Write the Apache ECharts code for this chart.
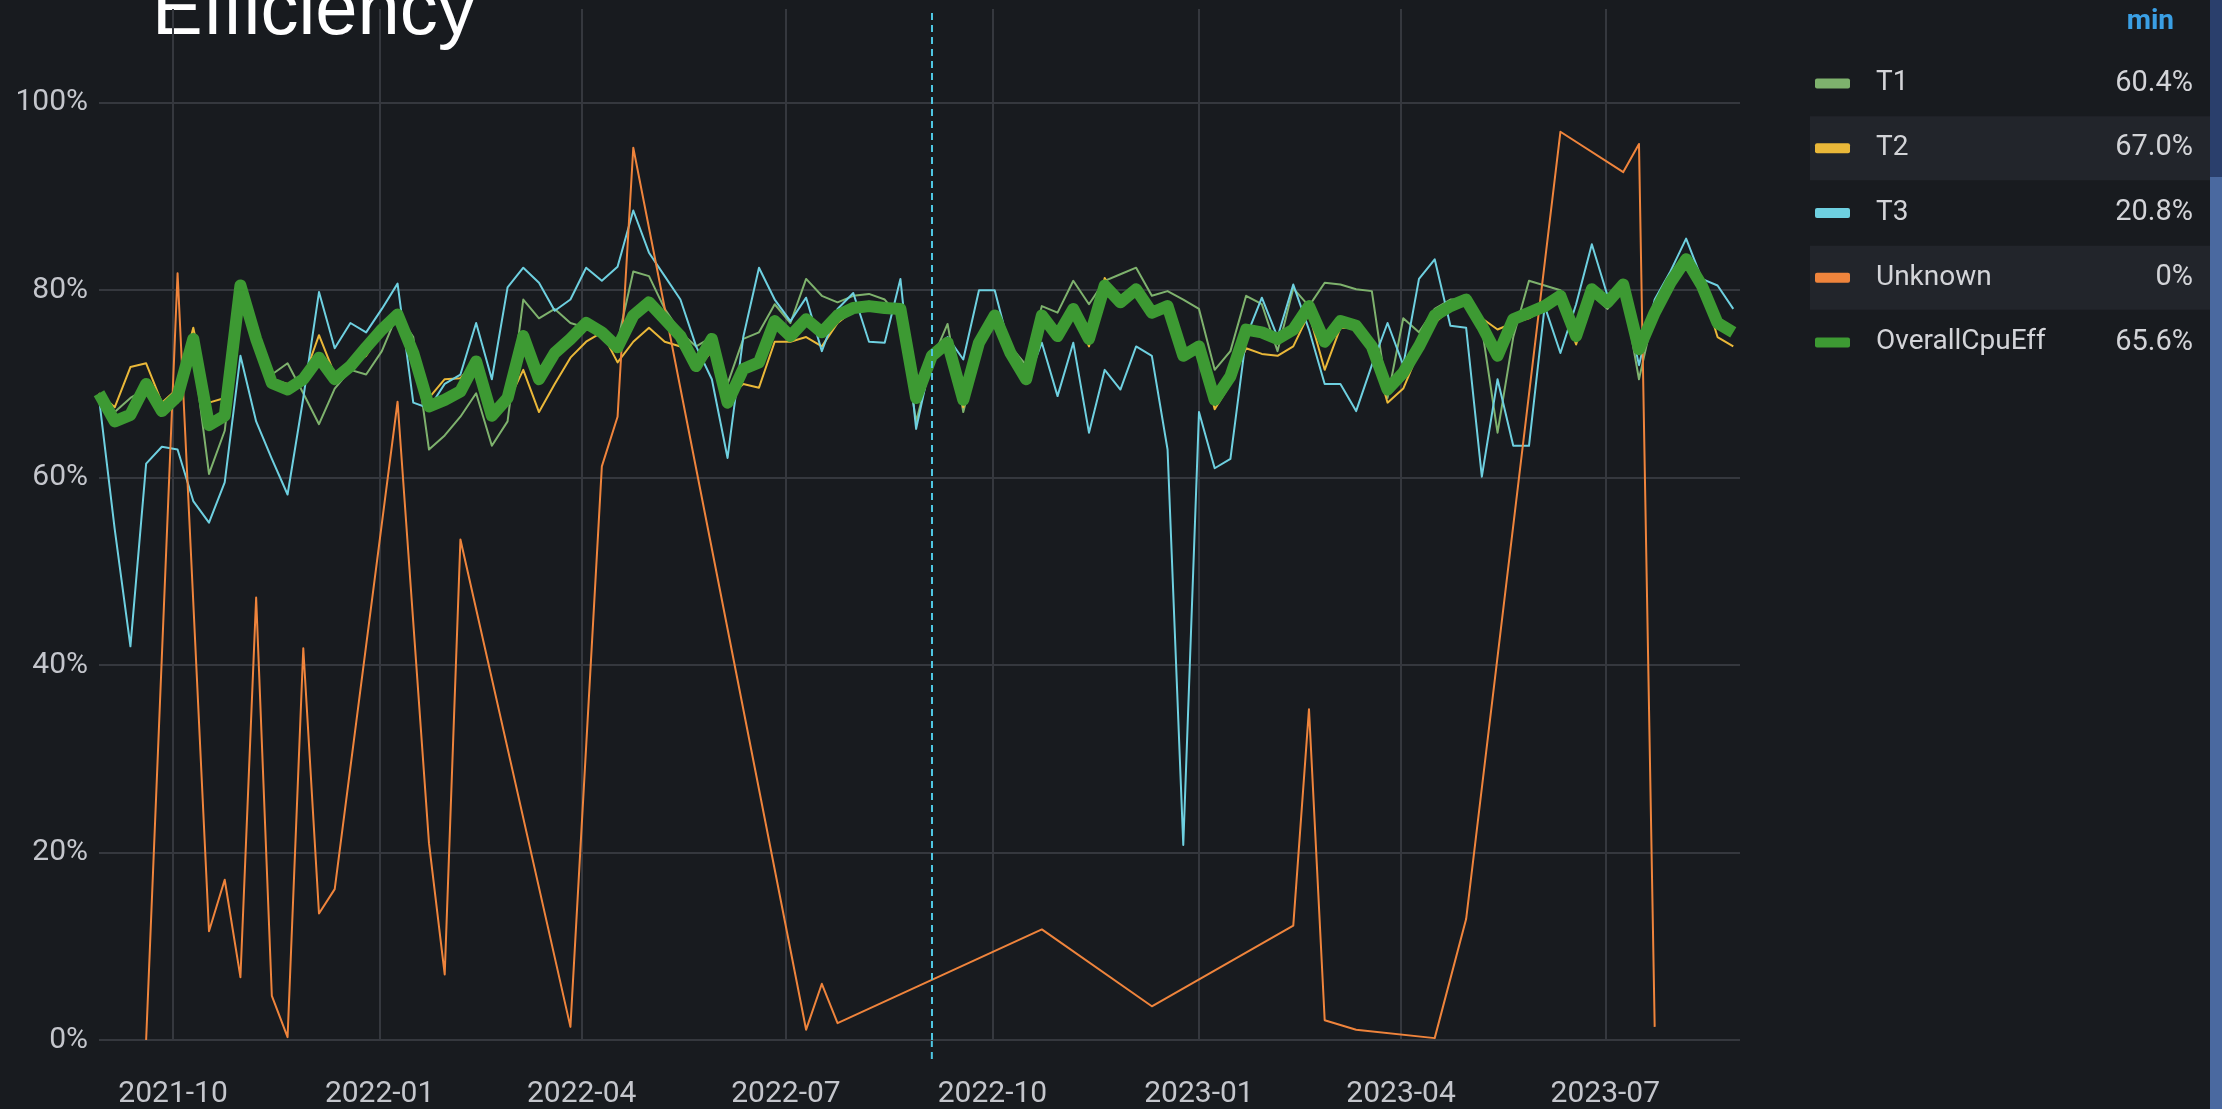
<!DOCTYPE html>
<html>
<head>
<meta charset="utf-8">
<title>Efficiency</title>
<script src="https://cdn.jsdelivr.net/npm/echarts@6/dist/echarts.min.js"></script>
<style>
  html, body { margin: 0; padding: 0; background: #181b1f; }
  #chart { width: 2222px; height: 1109px; }
</style>
</head>
<body>
<div id="chart"></div>
<script>
var DAY = 24 * 3600 * 1000;
// weekly samples, first one on 2021-08-29
var firstWeek = Date.UTC(2021, 7, 29);

var t1 = [
  69.0, 67.0, 68.5, 69.5, 67.5, 68.0, 73.5, 60.4, 65.0, 79.5,
  75.0, 71.0, 72.2, 69.0, 65.7, 69.5, 71.5, 71.0, 73.5, 77.5,
  75.0, 63.0, 64.5, 66.5, 69.0, 63.4, 66.0, 79.0, 77.0, 78.0,
  76.5, 76.0, 75.0, 74.5, 82.0, 81.5, 78.0, 75.5, 74.0, 75.0,
  70.0, 74.8, 75.5, 78.5, 76.5, 81.2, 79.4, 78.7, 79.4, 79.6,
  79.0, 77.0, 66.0, 72.5, 76.4, 67.0, 73.5, 77.5, 74.0, 72.0,
  78.3, 77.6, 81.0, 78.5, 81.0, 81.7, 82.4, 79.4, 79.9, 79.0,
  78.0, 71.5, 73.5, 79.4, 78.5, 73.5, 80.2, 78.3, 80.8, 80.6,
  80.1, 79.9, 68.5, 77.0, 75.5, 78.0, 79.0, 79.0, 76.0, 64.8,
  75.0, 81.0, 80.5, 80.0, 75.0, 79.5, 78.0, 80.0, 70.5, 78.0,
  81.0, 83.0, 80.0, 77.0, 76.0
];

var t2 = [
  69.0, 67.5, 71.8, 72.2, 68.0, 69.5, 76.0, 68.0, 68.5, 79.0,
  74.0, 70.5, 70.0, 70.5, 75.2, 71.0, 72.0, 73.0, 75.5, 77.0,
  73.0, 68.5, 70.5, 70.6, 72.5, 67.3, 68.0, 71.5, 67.0, 70.0,
  72.8, 74.5, 75.5, 72.3, 74.5, 76.0, 74.5, 74.0, 71.5, 73.5,
  68.5, 70.0, 69.6, 74.5, 74.5, 75.0, 74.0, 76.5, 77.8, 78.0,
  77.8, 77.5, 69.0, 73.0, 74.5, 67.5, 74.5, 77.0, 73.5, 70.0,
  76.5, 75.0, 78.0, 74.0, 81.3, 78.5, 80.0, 77.5, 77.8, 73.0,
  74.0, 67.3, 70.0, 73.8, 73.2, 73.0, 74.0, 77.5, 71.5, 76.0,
  76.0, 74.0, 68.0, 69.5, 73.5, 76.5, 78.0, 78.5, 77.0, 75.8,
  76.5, 77.0, 78.0, 79.0, 74.2, 79.5, 78.5, 80.5, 74.0, 77.5,
  80.5, 83.0, 80.5, 75.0, 74.0
];

var t3 = [
  68.5, 54.5, 42.0, 61.5, 63.3, 63.0, 57.5, 55.2, 59.5, 73.0,
  66.0, 62.0, 58.2, 68.5, 79.8, 73.8, 76.5, 75.5, 78.0, 80.7,
  68.0, 67.4, 70.0, 71.0, 76.5, 70.5, 80.3, 82.4, 80.8, 77.8,
  79.0, 82.4, 81.0, 82.5, 88.5, 84.0, 81.5, 79.0, 74.0, 70.5,
  62.1, 75.0, 82.4, 79.0, 76.7, 79.2, 73.5, 78.0, 79.7, 74.5,
  74.4, 81.2, 65.2, 73.0, 75.0, 72.6, 80.0, 80.0, 73.5, 70.0,
  74.4, 68.7, 74.4, 64.8, 71.5, 69.4, 74.0, 73.0, 63.0, 20.8,
  67.0, 61.0, 62.0, 75.0, 79.2, 75.0, 80.6, 75.8, 70.0, 70.0,
  67.1, 72.0, 76.5, 72.0, 81.2, 83.3, 76.2, 76.0, 60.1, 70.5,
  63.4, 63.4, 78.3, 73.3, 78.5, 84.9, 79.4, 80.0, 72.0, 79.0,
  82.0, 85.5, 81.2, 80.5, 78.0
];

var overall = [
  69.0, 66.0, 66.7, 70.0, 67.1, 68.7, 74.8, 65.6, 66.6, 80.5,
  74.8, 70.1, 69.4, 70.5, 72.8, 70.5, 71.9, 73.9, 75.8, 77.4,
  73.3, 67.6, 68.3, 69.2, 72.4, 66.6, 68.5, 75.1, 70.5, 73.3,
  74.8, 76.5, 75.5, 73.9, 77.3, 78.7, 76.9, 75.1, 71.9, 74.8,
  68.0, 71.6, 72.3, 76.7, 75.1, 76.9, 75.5, 77.3, 78.1, 78.3,
  78.1, 78.0, 68.5, 73.0, 74.4, 68.3, 74.4, 77.3, 73.3, 70.5,
  77.3, 75.1, 78.0, 74.8, 80.5, 78.7, 80.1, 77.6, 78.3, 73.0,
  74.0, 68.3, 70.8, 75.8, 75.5, 74.8, 75.8, 78.3, 74.5, 76.7,
  76.2, 74.0, 69.4, 71.2, 74.0, 77.3, 78.3, 79.0, 76.2, 73.0,
  76.9, 77.6, 78.3, 79.4, 75.1, 80.1, 78.7, 80.6, 73.7, 77.6,
  80.8, 83.3, 80.5, 76.5, 75.5
];

// Unknown only reports on some weeks (week index -> value)
var unknownWeeks = [3, 5, 7, 8, 9, 10, 11, 12, 13, 14, 15, 19, 21, 22, 23, 30, 32, 33, 34,
  45, 46, 47, 60, 67, 76, 77, 78, 80, 85, 87, 93, 97, 98, 99];
var unknownValues = [0, 81.8, 11.6, 17.1, 6.7, 47.2, 4.7, 0.3, 41.8, 13.5, 16.1, 68.1, 21.0, 7.0, 53.4, 1.4, 61.2, 66.5, 95.2,
  1.1, 6.0, 1.8, 11.8, 3.6, 12.2, 35.3, 2.1, 1.1, 0.2, 12.9, 96.9, 92.6, 95.6, 1.4];

var quarterTicks = [Date.UTC(2021, 9, 1), Date.UTC(2022, 0, 1), Date.UTC(2022, 3, 1), Date.UTC(2022, 6, 1),
  Date.UTC(2022, 9, 1), Date.UTC(2023, 0, 1), Date.UTC(2023, 3, 1), Date.UTC(2023, 6, 1)];
var annotationTime = Date.UTC(2022, 8, 4);
var rangeStart = Date.UTC(2021, 7, 29);
var rangeEnd = Date.UTC(2023, 7, 30);

var names = ['T1', 'T2', 'T3', 'Unknown', 'OverallCpuEff'];
var colors = ['#7eb26d', '#eab839', '#6ed0e0', '#ef843c', '#3d9a33'];

function weekly(values) {
  return values.map(function (v, i) { return [firstWeek + i * 7 * DAY, v]; });
}

var unknownData = unknownWeeks.map(function (w, i) {
  return [firstWeek + w * 7 * DAY, unknownValues[i]];
});

function pad(n) { return n < 10 ? '0' + n : '' + n; }

function minText(arr) {
  var m = Math.min.apply(null, arr);
  return m === 0 ? '0%' : m.toFixed(1) + '%';
}

var gridColor = '#35383e';
var labelColor = '#c4c6cc';
var annotationColor = '#4fc6e2';
var font = 'Roboto';

function lineSeries(name, data, color, width) {
  return {
    name: name,
    type: 'line',
    data: data,
    showSymbol: false,
    symbol: 'none',
    animation: false,
    lineStyle: { color: color, width: width, join: 'round' },
    itemStyle: { color: color }
  };
}

var series = [
  lineSeries('T1', weekly(t1), colors[0], 2),
  lineSeries('T2', weekly(t2), colors[1], 2),
  lineSeries('T3', weekly(t3), colors[2], 2),
  lineSeries('Unknown', unknownData, colors[3], 2),
  lineSeries('OverallCpuEff', weekly(overall), colors[4], 12)
];

series[0].markLine = {
  silent: true,
  symbol: ['none', 'none'],
  label: { show: false },
  lineStyle: { color: annotationColor, type: [7, 5], width: 2 },
  data: [{ xAxis: annotationTime }]
};

// legend drawn by hand (grafana style table with min column)
var legendValues = [t1, t2, t3, unknownValues, overall];
var graphics = [
  {
    type: 'text', x: 152, y: 13,
    style: { text: 'Efficiency', font: '76px "Liberation Sans"', fill: '#ffffff', verticalAlign: 'middle' }
  },
  {
    type: 'text', x: 2174, y: 22,
    style: { text: 'min', font: 'bold 28px Roboto', fill: '#3a9fe4', align: 'right', verticalAlign: 'middle' }
  },
  { type: 'rect', shape: { x: 2210, y: 0, width: 12, height: 177 }, style: { fill: '#2a3f6c' } },
  { type: 'rect', shape: { x: 2210, y: 177, width: 12, height: 932 }, style: { fill: '#4a69a0' } }
];

for (var i = 0; i < names.length; i++) {
  var cy = 83.4 + i * 64.75;
  if (i % 2 === 1) {
    graphics.push({ type: 'rect', shape: { x: 1810, y: cy - 32, width: 400, height: 64 }, style: { fill: '#22252b' } });
  }
  graphics.push({ type: 'rect', shape: { x: 1815, y: cy - 5, width: 35, height: 10, r: 2 }, style: { fill: colors[i] } });
  graphics.push({
    type: 'text', x: 1876, y: cy,
    style: { text: names[i], font: '28px Roboto', fill: '#d3d4d8', verticalAlign: 'middle' }
  });
  graphics.push({
    type: 'text', x: 2193, y: cy,
    style: { text: minText(legendValues[i]), font: '29px Roboto', fill: '#d3d4d8', align: 'right', verticalAlign: 'middle' }
  });
}

var chart = echarts.init(document.getElementById('chart'));

chart.setOption({
  backgroundColor: '#181b1f',
  animation: false,
  grid: { left: 99, right: 482, top: 9, bottom: 69 },
  xAxis: {
    type: 'value',
    min: rangeStart,
    max: rangeEnd,
    axisLine: { show: false },
    axisTick: { show: false, customValues: quarterTicks },
    splitLine: { show: true, lineStyle: { color: gridColor, width: 2 } },
    axisLabel: {
      customValues: quarterTicks,
      margin: 39,
      color: labelColor,
      fontFamily: font,
      fontSize: 30,
      formatter: function (val) {
        var d = new Date(val);
        return d.getUTCFullYear() + '-' + pad(d.getUTCMonth() + 1);
      }
    }
  },
  yAxis: {
    type: 'value',
    min: 0,
    max: 110,
    interval: 20,
    axisLine: { show: false },
    axisTick: { show: false },
    splitLine: {
      show: true,
      lineStyle: { color: [gridColor, gridColor, gridColor, gridColor, gridColor, gridColor, 'rgba(0,0,0,0)'], width: 2 }
    },
    axisLabel: {
      margin: 11,
      color: labelColor,
      fontFamily: font,
      fontSize: 30,
      formatter: function (v) { return v > 100 ? '' : v + '%'; }
    }
  },
  series: series,
  graphic: graphics
});

// grafana lets the annotation marker run a little below the plot
var annX = chart.convertToPixel({ xAxisIndex: 0 }, annotationTime);
var plotBottom = chart.convertToPixel({ yAxisIndex: 0 }, 0);
graphics.push({
  type: 'line',
  shape: { x1: annX, y1: plotBottom, x2: annX, y2: plotBottom + 22 },
  style: { stroke: annotationColor, lineWidth: 2, lineDash: [7, 5] }
});
chart.setOption({ graphic: graphics });
</script>
</body>
</html>
